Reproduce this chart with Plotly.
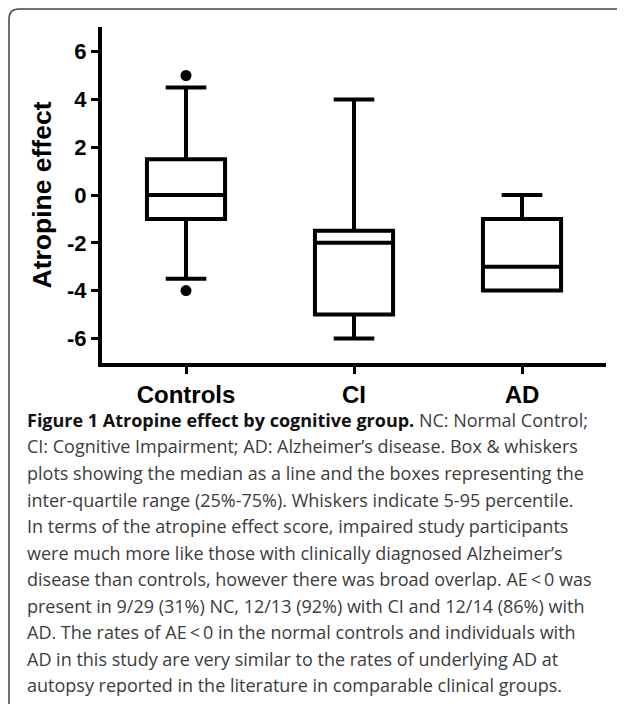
import plotly.graph_objects as go

categories = ["Controls", "CI", "AD"]
lowerfence = [-3.5, -6, -4]
q1 = [-1, -5, -4]
median = [0, -2, -3]
q3 = [1.5, -1.5, -1]
upperfence = [4.5, 4, 0]
outlier_cat = ["Controls", "Controls"]
outlier_val = [5, -4]
yticks = [-6, -4, -2, 0, 2, 4, 6]
yticktext = ["-6", "-4", "-2", "0", "2", "4", "6"]

caption_lines = [
    "<span style='color:#111111'><b>Figure 1 Atropine effect by cognitive group.</b></span> NC: Normal Control;",
    "CI: Cognitive Impairment; AD: Alzheimer\u2019s disease. Box &amp; whiskers",
    "plots showing the median as a line and the boxes representing the",
    "inter-quartile range (25%-75%). Whiskers indicate 5-95 percentile.",
    "In terms of the atropine effect score, impaired study participants",
    "were much more like those with clinically diagnosed Alzheimer\u2019s",
    "disease than controls, however there was broad overlap. AE\u2009&lt;\u20090 was",
    "present in 9/29 (31%) NC, 12/13 (92%) with CI and 12/14 (86%) with",
    "AD. The rates of AE\u2009&lt;\u20090 in the normal controls and individuals with",
    "AD in this study are very similar to the rates of underlying AD at",
    "autopsy reported in the literature in comparable clinical groups.",
]

# page body has an 8px margin: work in screen pixels, shift by OFF
OFF = 8
W, H = 625 - OFF, 704 - OFF
L, R, T, B = 102 - OFF, 19, 27 - OFF, H - (363 - OFF)
pw, ph = W - L - R, H - T - B

def px(x):
    return (x - OFF - L) / pw

def py(y):
    return (H - B - (y - OFF)) / ph

fig = go.Figure()
fig.add_trace(go.Box(
    x=categories, q1=q1, median=median, q3=q3,
    lowerfence=lowerfence, upperfence=upperfence,
    line=dict(color="black", width=4), fillcolor="white",
    whiskerwidth=0.52, boxpoints=False, showlegend=False,
))
fig.add_trace(go.Scatter(
    x=outlier_cat, y=outlier_val, mode="markers",
    marker=dict(color="black", size=11), showlegend=False,
))

fig.update_layout(
    width=W, height=H,
    margin=dict(l=L, r=R, t=T, b=B),
    paper_bgcolor="white", plot_bgcolor="white",
    boxgap=0.336,
    font=dict(family="Liberation Sans, Arial", color="black"),
    xaxis=dict(
        range=[-0.5, 2.5], showline=True, linecolor="black", linewidth=4,
        ticks="outside", ticklen=7, tickwidth=3, tickcolor="black",
        tickfont=dict(size=24, family="Liberation Sans, Arial", weight="bold"),
        showgrid=False, zeroline=False,
    ),
    yaxis=dict(
        range=[-7.03, 7.03], showline=True, linecolor="black", linewidth=4,
        tickvals=yticks, ticktext=yticktext,
        ticks="outside", ticklen=7, tickwidth=3, tickcolor="black",
        tickfont=dict(size=22, family="Liberation Sans, Arial", weight="bold"),
        showgrid=False, zeroline=False,
        title=dict(text="Atropine effect", standoff=9,
                   font=dict(size=26.5, family="Liberation Sans, Arial", weight="bold")),
    ),
)

# Frame border with rounded top-left corner
r = 10
fig.add_shape(
    type="path", xref="paper", yref="paper",
    path=(f"M {px(9)} {py(720)} L {px(9)} {py(9 + r)} "
          f"Q {px(9)} {py(9)} {px(9 + r)} {py(9)} L {px(660)} {py(9)}"),
    line=dict(color="#444444", width=1.5),
)

line_y0 = 420
line_step = 26.5
for i, txt in enumerate(caption_lines):
    fig.add_annotation(
        x=px(25), y=py(line_y0 + i * line_step), xref="paper", yref="paper",
        xanchor="left", yanchor="middle", showarrow=False, align="left",
        text=txt, font=dict(family="Open Sans", size=18, color="#3c3c3c"),
    )

fig.write_html("out.html")
